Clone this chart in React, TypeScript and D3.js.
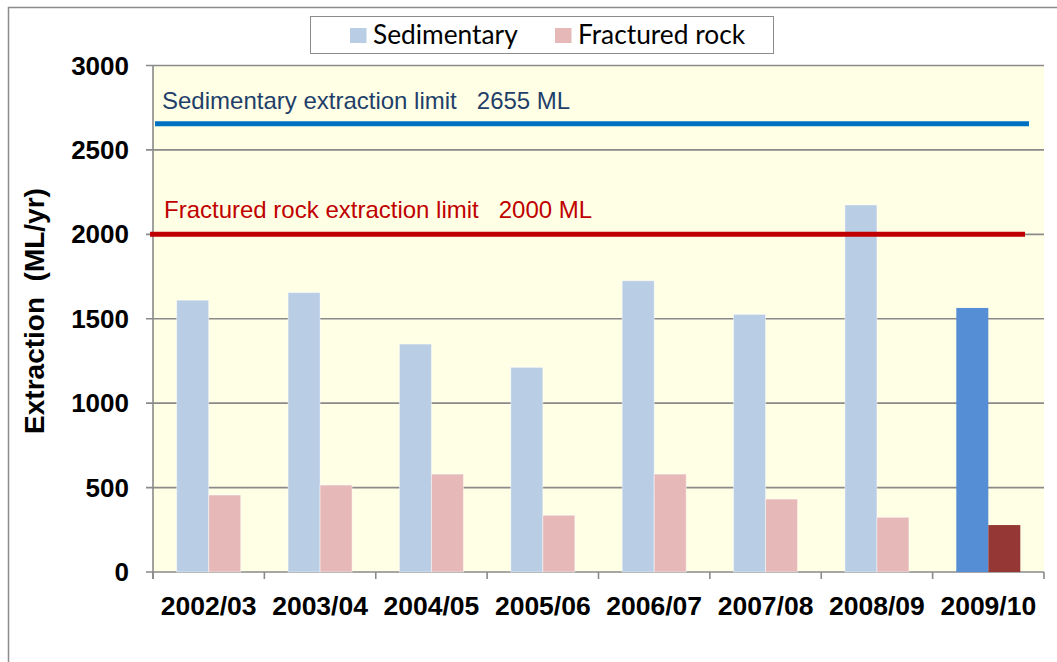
import React from "react";
import * as d3 from "d3";

const categories = ["2002/03", "2003/04", "2004/05", "2005/06", "2006/07", "2007/08", "2008/09", "2009/10"];
const seriesNames = ["Sedimentary", "Fractured rock"];
const sedimentary = [1610, 1655, 1350, 1212, 1725, 1526, 2174, 1564];
const fractured = [456, 515, 580, 336, 580, 432, 324, 278];
const yTicks = [0, 500, 1000, 1500, 2000, 2500, 3000];
const limits = [
  { label: "Sedimentary extraction limit   2655 ML", value: 2655 },
  { label: "Fractured rock extraction limit   2000 ML", value: 2000 },
];

const W = 1057, H = 662;
const plot = { left: 153, right: 1044, top: 65.5, bottom: 572 };
const baseColors = ["#B9CDE5", "#E6B9B8"];
const highlightColors = ["#558ED5", "#953735"];
const limitColors = ["#0070C0", "#C00000"];
const limitTextColors = ["#1F3F6A", "#C00000"];
const AX = "Liberation Sans, Arial, sans-serif";

export default function App() {
  const x0 = d3.scaleBand<string>().domain(categories).range([plot.left, plot.right]).padding(0);
  const x1 = d3.scaleBand<string>().domain(seriesNames).range([0, x0.bandwidth()]).paddingInner(0).paddingOuter(0.74);
  const y = d3.scaleLinear().domain([0, 3000]).range([plot.bottom, plot.top]);
  const values = [sedimentary, fractured];
  const last = categories.length - 1;

  return (
    <svg width={W} height={H} style={{ position: "absolute", left: 0, top: 0 }}>
      <rect x={0} y={0} width={W} height={H} fill="#fff" />
      {/* outer frame */}
      <rect x={8.5} y={7.5} width={W + 20} height={H + 20} fill="none" stroke="#8c8c8c" strokeWidth={1.5} />
      {/* plot background */}
      <rect x={plot.left} y={plot.top} width={plot.right - plot.left} height={plot.bottom - plot.top} fill="#FFFFE6" />
      {/* gridlines */}
      {yTicks.map((t) => (
        <line key={t} x1={plot.left - 7} x2={plot.right} y1={y(t)} y2={y(t)} stroke="#8a8a8a" strokeWidth={1.6} />
      ))}
      {/* y axis line */}
      <line x1={plot.left} x2={plot.left} y1={plot.top} y2={plot.bottom + 7} stroke="#8a8a8a" strokeWidth={1.6} />
      {/* x ticks */}
      {[...categories.map((c) => x0(c)!), plot.right].map((xv, i) => (
        <line key={i} x1={xv} x2={xv} y1={plot.bottom} y2={plot.bottom + 7} stroke="#8a8a8a" strokeWidth={1.6} />
      ))}
      {/* bars */}
      {categories.map((c, i) => (
        <g key={c}>
          {seriesNames.map((s, si) => {
            const v = values[si][i];
            const bx = x0(c)! + x1(s)!;
            const color = i === last ? highlightColors[si] : baseColors[si];
            return (
              <rect key={s} x={bx} y={y(v)} width={x1.bandwidth()} height={y(0) - y(v)} fill={color}
                stroke={i === last ? "none" : "rgba(255,255,255,0.45)"} strokeWidth={1} />
            );
          })}
        </g>
      ))}
      {/* limit lines */}
      <line x1={155} x2={1029} y1={y(limits[0].value)} y2={y(limits[0].value)} stroke={limitColors[0]} strokeWidth={5} />
      <line x1={150} x2={1025} y1={y(limits[1].value)} y2={y(limits[1].value)} stroke={limitColors[1]} strokeWidth={5} />
      <text x={162} y={y(limits[0].value) - 15} fontFamily={AX} fontSize={24} fill={limitTextColors[0]} style={{ whiteSpace: "pre" }}>
        {limits[0].label}
      </text>
      <text x={164} y={y(limits[1].value) - 16} fontFamily={AX} fontSize={24} fill={limitTextColors[1]} style={{ whiteSpace: "pre" }}>
        {limits[1].label}
      </text>
      {/* y tick labels */}
      {yTicks.map((t) => (
        <text key={t} x={129} y={y(t)} dy="0.35em" textAnchor="end" fontFamily={AX} fontWeight="bold" fontSize={26} fill="#000">
          {t}
        </text>
      ))}
      {/* x labels */}
      {categories.map((c) => (
        <text key={c} x={x0(c)! + x0.bandwidth() / 2} y={615} textAnchor="middle" fontFamily={AX} fontWeight="bold" fontSize={26.5} fill="#000">
          {c}
        </text>
      ))}
      {/* y axis title */}
      <text transform={`translate(44,311) rotate(-90)`} textAnchor="middle" fontFamily={AX} fontWeight="bold" fontSize={28} fill="#000" style={{ whiteSpace: "pre" }}>
        {"Extraction  (ML/yr)"}
      </text>
      {/* legend */}
      <rect x={310.5} y={16.5} width={463} height={37} fill="#fff" stroke="#8c8c8c" strokeWidth={1} />
      {seriesNames.map((s, si) => {
        const lx = si === 0 ? 350 : 555;
        return (
          <g key={s}>
            <rect x={lx} y={28} width={16.5} height={15} fill={baseColors[si]} />
            <text x={lx + 23} y={44} fontFamily="Lato, Carlito, Calibri, sans-serif" fontSize={26.3} fill="#000">
              {s}
            </text>
          </g>
        );
      })}
    </svg>
  );
}
